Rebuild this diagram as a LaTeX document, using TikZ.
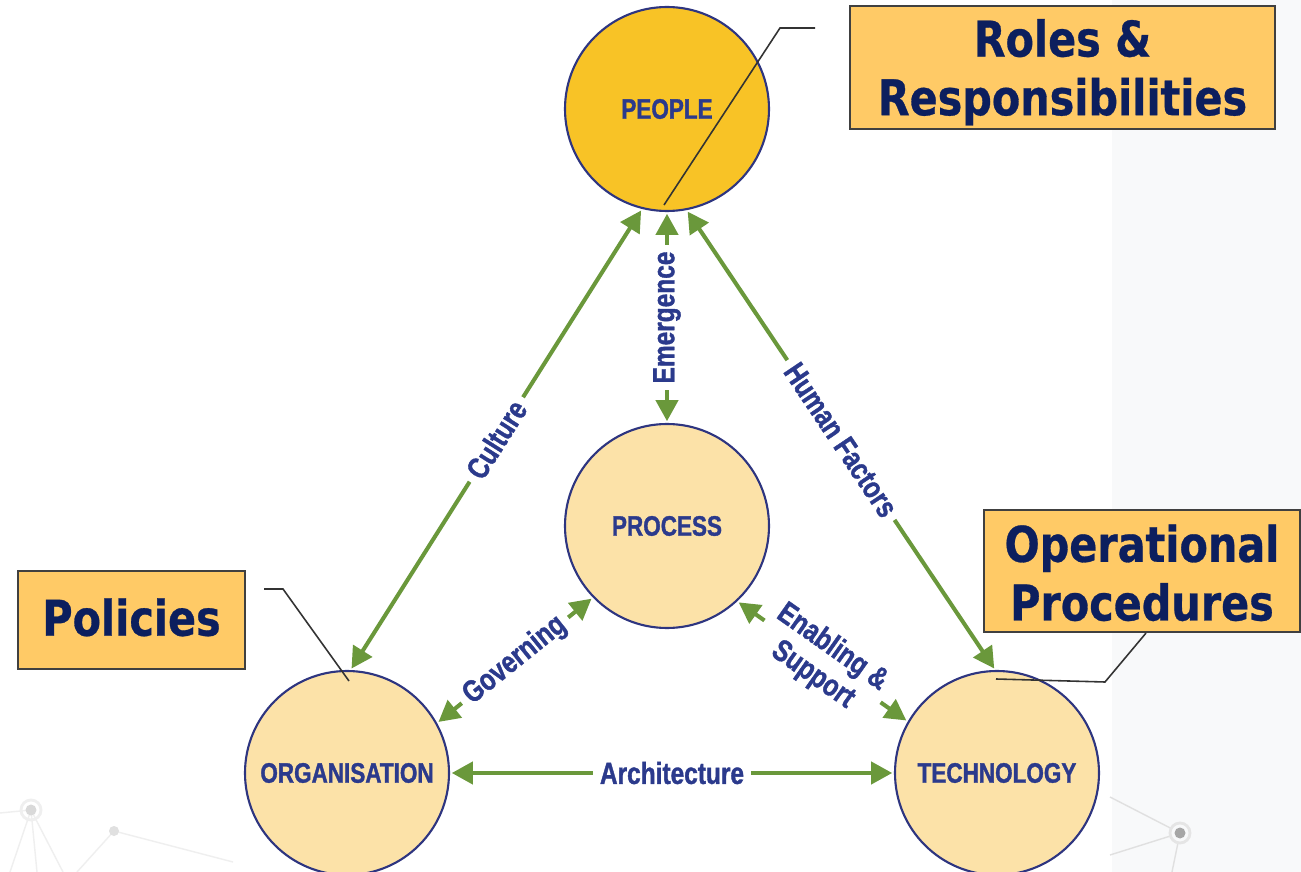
\documentclass[tikz,border=0pt]{standalone}
\usepackage{fontspec}
\usetikzlibrary{arrows.meta}
\newfontfamily\narrowfont[FakeStretch=0.8,BoldFeatures={FakeBold=1.2}]{Liberation Sans}
\newfontfamily\boxfont[FakeStretch=0.84,BoldFeatures={FakeBold=0.6}]{DejaVu Sans}
\definecolor{navy}{HTML}{2B3A8C}
\definecolor{deepnavy}{HTML}{0C1F5E}
\definecolor{leafgreen}{HTML}{6A983B}
\definecolor{gold}{HTML}{F8C326}
\definecolor{cream}{HTML}{FCE2A8}
\definecolor{boxorange}{HTML}{FFCA66}
\definecolor{rim}{HTML}{2E3580}
\definecolor{panelgrey}{HTML}{F8F9FA}
\definecolor{netgrey}{HTML}{EFEFEF}

\begin{document}
\begin{tikzpicture}[
  pillar/.style={circle,draw=rim,line width=0.6pt,minimum size=2.04cm,inner sep=0pt,text=navy,font=\narrowfont\bfseries\fontsize{8}{9}\selectfont},
  link/.style={draw=leafgreen,line width=1.15pt,{Triangle[length=0.21cm,width=0.22cm]}-{Triangle[length=0.21cm,width=0.22cm]},shorten <=0.5pt,shorten >=0.5pt},
  linklabel/.style={fill=white,inner sep=2pt,sloped,text=navy,font=\narrowfont\bfseries\fontsize{8.7}{9.6}\selectfont},
  tag/.style={draw=black!75,line width=0.6pt,fill=boxorange,text=deepnavy,align=center,inner sep=0pt,font=\boxfont\bfseries\fontsize{14}{16.7}\selectfont},
  pointer/.style={draw=black!80,line width=0.45pt}
]
\useasboundingbox (0,0) rectangle (13.01,-8.72);
\fill[white] (0,0) rectangle (13.01,-8.72);
\fill[panelgrey] (11.12,0) rectangle (13.01,-8.72);
\draw[netgrey,line width=0.4pt] (0,-8.13) -- (0.31,-8.10) -- (0.10,-8.72) (0.31,-8.10) -- (0.37,-8.72) (0.31,-8.10) -- (0.63,-8.72);
\draw[netgrey,line width=0.4pt] (0.77,-8.72) -- (1.14,-8.31) -- (2.33,-8.62);
\draw[netgrey,line width=0.8pt] (0.31,-8.10) circle (0.1);
\fill[black!15] (0.31,-8.10) circle (0.055);
\fill[black!12] (1.14,-8.31) circle (0.05);
\draw[black!12,line width=0.4pt] (11.10,-7.97) -- (11.80,-8.33) -- (11.10,-8.55) (11.80,-8.33) -- (11.72,-8.72);
\draw[black!10,line width=0.8pt,fill=panelgrey] (11.80,-8.33) circle (0.1);
\fill[black!35] (11.80,-8.33) circle (0.055);

\node[pillar,fill=gold] (people) at (6.67,-1.09) {PEOPLE};
\node[pillar,fill=cream] (process) at (6.67,-5.26) {PROCESS};
\node[pillar,fill=cream] (org) at (3.47,-7.73) {ORGANISATION};
\node[pillar,fill=cream] (tech) at (9.97,-7.73) {TECHNOLOGY};

\path (org.88) edge[link] node[linklabel] {Culture} (people.256);
\path (process.north) edge[link] node[linklabel] {Emergence} (people.south);
\path (people.281) edge[link] node[linklabel] {Human Factors} (tech.91);
\path (org.29) edge[link] node[linklabel] {Governing} (process.224);
\path (process.313) edge[link] node[linklabel,align=center] {Enabling \&\\Support} (tech.150);
\path (org.east) edge[link] node[linklabel] {Architecture} (tech.west);

\node[tag,minimum width=4.25cm,minimum height=1.23cm] (roles) at (10.625,-0.675) {\rule{0pt}{0.47cm}Roles \&\\Responsibilities};
\node[tag,minimum width=3.16cm,minimum height=1.22cm] (ops) at (11.42,-5.71) {\rule{0pt}{0.41cm}Operational\\Procedures};
\node[tag,minimum width=2.27cm,minimum height=0.98cm] (policies) at (1.315,-6.20) {Policies\rule[-0.06cm]{0pt}{0pt}};

\coordinate (rolesend) at (8.15,-0.28);
\coordinate (rolestip) at (6.64,-2.05);
\coordinate (policiesend) at (2.64,-5.89);
\coordinate (policiestip) at (3.49,-6.81);
\coordinate (opstip) at (9.96,-6.79);
\draw[pointer] (rolesend) -- (7.80,-0.28) -- (rolestip);
\draw[pointer] (policiesend) -- (2.83,-5.89) -- (policiestip);
\draw[pointer] ([xshift=0.04cm]ops.south) -- (11.05,-6.82) -- (opstip);
\end{tikzpicture}
\end{document}
